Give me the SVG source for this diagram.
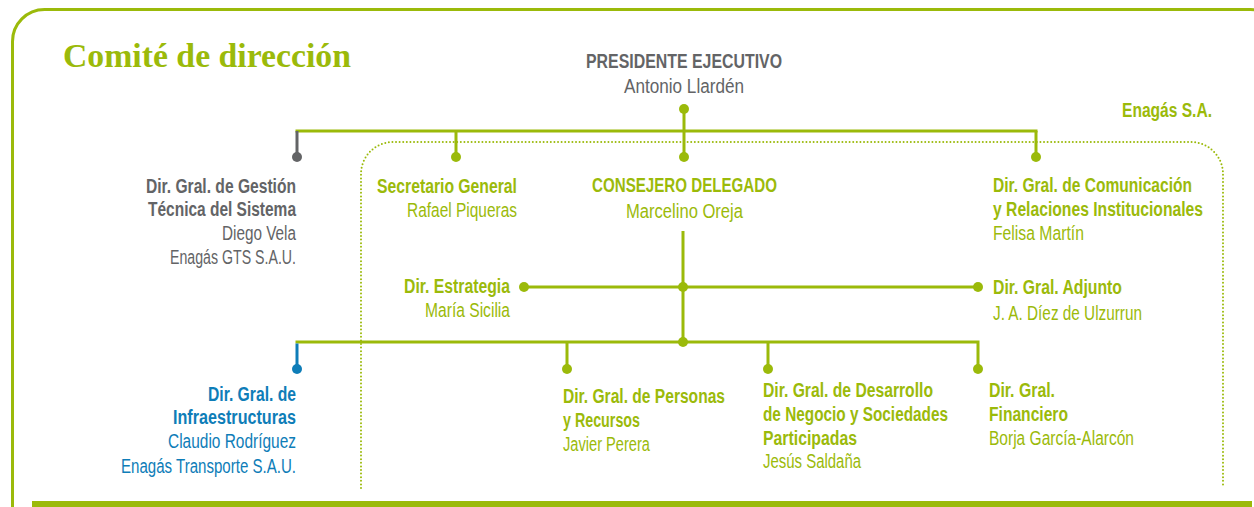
<svg xmlns="http://www.w3.org/2000/svg" width="1254" height="507" viewBox="0 0 1254 507">
<style>
text{font-family:"Liberation Sans Narrow","Liberation Sans",Arial,sans-serif;font-size:20px}
.b{font-weight:bold}
.g{fill:#9bba0a}
.k{fill:#636466}
.u{fill:#0e7db8}
.ln{fill:none;stroke:#9bba0a;stroke-width:3}
.lk{fill:none;stroke:#636466;stroke-width:3}
.lu{fill:none;stroke:#0e7db8;stroke-width:3}
.dg{fill:#9bba0a}
.dk{fill:#636466}
.du{fill:#0e7db8}
.dot{fill:none;stroke:#9bba0a;stroke-width:2;stroke-dasharray:0 3.6;stroke-linecap:round}
.title{font-family:"Liberation Serif","DejaVu Serif",serif;font-size:33px;font-weight:bold;fill:#9bba0a}
</style>
<rect x="12.5" y="9.5" width="1270" height="540" rx="32" ry="32" fill="none" stroke="#9bba0a" stroke-width="3"/>
<rect x="32" y="501" width="1220" height="6" fill="#9bba0a"/>
<path class="dot" d="M361 488 V174 A32 32 0 0 1 393 142 H1191 A32 32 0 0 1 1223 174 V488"/>
<text class="title" x="63" y="67" textLength="288" lengthAdjust="spacingAndGlyphs">Comité de dirección</text>
<text class="b g" x="1122" y="117" textLength="90" lengthAdjust="spacingAndGlyphs">Enagás S.A.</text>
<g id="connectors">
<path class="ln" d="M295.5 131 H1037.5"/>
<path class="lk" d="M297 131 V157"/>
<path class="ln" d="M456 131 V157 M684 109 V157 M1036 131 V157"/>
<path class="ln" d="M683 231 V342 M524 287 H978 M295.5 342 H979.5 M567 342 V369 M768 342 V369 M978 342 V369"/>
<path class="lu" d="M297 343.5 V369"/>
<circle class="dk" cx="297" cy="157" r="5"/>
<circle class="dg" cx="456" cy="157" r="5"/>
<circle class="dg" cx="684" cy="109" r="5"/>
<circle class="dg" cx="684" cy="157" r="5"/>
<circle class="dg" cx="1036" cy="157" r="5"/>
<circle class="dg" cx="683" cy="287" r="5"/>
<circle class="dg" cx="683" cy="342" r="5"/>
<circle class="dg" cx="524" cy="287" r="5"/>
<circle class="dg" cx="978" cy="287" r="5"/>
<circle class="du" cx="297" cy="369" r="5"/>
<circle class="dg" cx="567" cy="369" r="5"/>
<circle class="dg" cx="768" cy="369" r="5"/>
<circle class="dg" cx="978" cy="369" r="5"/>
</g>
<g id="presidente">
<text class="b k" x="586" y="68" textLength="196" lengthAdjust="spacingAndGlyphs">PRESIDENTE  EJECUTIVO</text>
<text class="k" x="624" y="93" textLength="120" lengthAdjust="spacingAndGlyphs">Antonio Llardén</text>
</g>
<g id="gestion-tecnica">
<text class="b k" x="146" y="193" textLength="150" lengthAdjust="spacingAndGlyphs">Dir. Gral. de Gestión</text>
<text class="b k" x="148" y="216" textLength="148" lengthAdjust="spacingAndGlyphs">Técnica del Sistema</text>
<text class="k" x="222" y="240" textLength="74" lengthAdjust="spacingAndGlyphs">Diego Vela</text>
<text class="k" x="170" y="264" textLength="126" lengthAdjust="spacingAndGlyphs">Enagás GTS S.A.U.</text>
</g>
<g id="secretario">
<text class="b g" x="377" y="193" textLength="140" lengthAdjust="spacingAndGlyphs">Secretario General</text>
<text class="g" x="407" y="217" textLength="110" lengthAdjust="spacingAndGlyphs">Rafael Piqueras</text>
</g>
<g id="consejero">
<text class="b g" x="592" y="192" textLength="185" lengthAdjust="spacingAndGlyphs">CONSEJERO DELEGADO</text>
<text class="g" x="626" y="218" textLength="117" lengthAdjust="spacingAndGlyphs">Marcelino Oreja</text>
</g>
<g id="comunicacion">
<text class="b g" x="993" y="192" textLength="199" lengthAdjust="spacingAndGlyphs">Dir. Gral. de Comunicación</text>
<text class="b g" x="993" y="216" textLength="210" lengthAdjust="spacingAndGlyphs">y Relaciones Institucionales</text>
<text class="g" x="993" y="240" textLength="91" lengthAdjust="spacingAndGlyphs">Felisa Martín</text>
</g>
<g id="estrategia">
<text class="b g" x="404" y="293" textLength="106" lengthAdjust="spacingAndGlyphs">Dir. Estrategia</text>
<text class="g" x="425" y="317" textLength="85" lengthAdjust="spacingAndGlyphs">María Sicilia</text>
</g>
<g id="adjunto">
<text class="b g" x="993" y="294" textLength="129" lengthAdjust="spacingAndGlyphs">Dir. Gral. Adjunto</text>
<text class="g" x="993" y="320" textLength="149" lengthAdjust="spacingAndGlyphs">J. A. Díez de Ulzurrun</text>
</g>
<g id="infraestructuras">
<text class="b u" x="208" y="401" textLength="88" lengthAdjust="spacingAndGlyphs">Dir. Gral. de</text>
<text class="b u" x="173" y="424" textLength="123" lengthAdjust="spacingAndGlyphs">Infraestructuras</text>
<text class="u" x="168" y="448" textLength="128" lengthAdjust="spacingAndGlyphs">Claudio Rodríguez</text>
<text class="u" x="121" y="473" textLength="175" lengthAdjust="spacingAndGlyphs">Enagás Transporte S.A.U.</text>
</g>
<g id="personas">
<text class="b g" x="563" y="403" textLength="162" lengthAdjust="spacingAndGlyphs">Dir. Gral. de  Personas</text>
<text class="b g" x="563" y="427" textLength="77" lengthAdjust="spacingAndGlyphs">y Recursos</text>
<text class="g" x="563" y="451" textLength="87" lengthAdjust="spacingAndGlyphs">Javier Perera</text>
</g>
<g id="desarrollo">
<text class="b g" x="763" y="397" textLength="170" lengthAdjust="spacingAndGlyphs">Dir. Gral. de Desarrollo</text>
<text class="b g" x="763" y="421" textLength="185" lengthAdjust="spacingAndGlyphs">de Negocio y Sociedades</text>
<text class="b g" x="763" y="445" textLength="94" lengthAdjust="spacingAndGlyphs">Participadas</text>
<text class="g" x="763" y="468" textLength="98" lengthAdjust="spacingAndGlyphs">Jesús Saldaña</text>
</g>
<g id="financiero">
<text class="b g" x="989" y="397" textLength="66" lengthAdjust="spacingAndGlyphs">Dir. Gral.</text>
<text class="b g" x="989" y="421" textLength="79" lengthAdjust="spacingAndGlyphs">Financiero</text>
<text class="g" x="989" y="445" textLength="145" lengthAdjust="spacingAndGlyphs">Borja García-Alarcón</text>
</g>
</svg>
